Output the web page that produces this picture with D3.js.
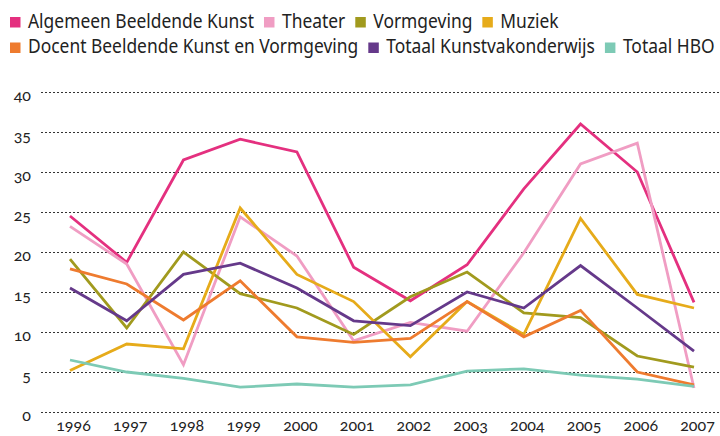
<!DOCTYPE html>
<html>
<head>
<meta charset="utf-8">
<script src="https://cdn.jsdelivr.net/npm/d3@7"></script>
<style>
  body { margin: 0; background: #fff; }
  text { font-family: "Noto Sans", sans-serif; fill: #222; }
  .num text { font-family: Lato, "Noto Sans", sans-serif; font-variant-numeric: oldstyle-nums; font-feature-settings: "onum" 1; }
</style>
</head>
<body>
<svg id="chart" width="720" height="436"></svg>
<script>
const years = [1996, 1997, 1998, 1999, 2000, 2001, 2002, 2003, 2004, 2005, 2006, 2007];
const yTicks = [0, 5, 10, 15, 20, 25, 30, 35, 40];

const algemeenBK = [24.5, 18.7, 31.5, 34.1, 32.5, 18.1, 13.9, 18.4, 27.9, 36.0, 30.0, 13.7];
const theater    = [23.2, 18.5, 5.9, 24.4, 19.5, 8.9, 11.2, 10.1, 19.9, 31.0, 33.6, 3.0];
const vormgeving = [19.1, 10.5, 20.0, 14.8, 13.0, 9.7, 14.4, 17.5, 12.4, 11.8, 7.0, 5.6];
const muziek     = [5.2, 8.5, 7.9, 25.5, 17.2, 13.8, 6.9, 13.8, 9.7, 24.2, 14.7, 13.0];
const docentBKV  = [17.9, 16.0, 11.5, 16.4, 9.4, 8.7, 9.2, 13.8, 9.4, 12.7, 5.0, 3.4];
const totaalKVO  = [15.5, 11.4, 17.2, 18.6, 15.5, 11.4, 10.8, 15.0, 13.0, 18.3, 13.0, 7.6];
const totaalHBO  = [6.5, 5.0, 4.2, 3.1, 3.5, 3.1, 3.4, 5.1, 5.4, 4.6, 4.1, 3.2];

const names  = ['Algemeen Beeldende Kunst', 'Theater', 'Vormgeving', 'Muziek',
                'Docent Beeldende Kunst en Vormgeving', 'Totaal Kunstvakonderwijs', 'Totaal HBO'];
const colors = ['#e4307f', '#f09dc3', '#a19a1e', '#e6ab1a', '#ee7b2f', '#65398a', '#7dcab5'];
const legendRows = [[0, 1, 2, 3], [4, 5, 6]];

const series = [algemeenBK, theater, vormgeving, muziek, docentBKV, totaalKVO, totaalHBO]
  .map((values, i) => ({ name: names[i], color: colors[i], values: values }));

const svg = d3.select('#chart');

const x = d3.scaleLinear().domain([1996, 2007]).range([70, 694]);
const y = d3.scaleLinear().domain([0, 40]).range([412, 92]);

// dotted grid + y labels
const yAxis = svg.append('g')
  .attr('class', 'num')
  .attr('transform', 'translate(41,0)')
  .call(d3.axisLeft(y).tickValues(yTicks).tickSize(-679).tickPadding(10));
yAxis.select('.domain').remove();
yAxis.selectAll('line')
  .attr('stroke', '#333')
  .attr('stroke-width', 1)
  .attr('stroke-dasharray', '2,2');
yAxis.selectAll('text')
  .attr('dy', '0.55em')
  .style('font-size', '16px');

// year labels
const xAxis = svg.append('g')
  .attr('class', 'num')
  .attr('transform', 'translate(0,412)')
  .call(d3.axisBottom(x).tickValues(years).tickFormat(d3.format('d')).tickSize(0).tickPadding(8));
xAxis.select('.domain').remove();
xAxis.selectAll('text')
  .attr('dx', 3)
  .style('font-size', '16px');

const line = d3.line()
  .x((d, i) => x(years[i]))
  .y(d => y(d));

svg.append('g')
  .selectAll('path')
  .data(series)
  .join('path')
  .attr('d', d => line(d.values))
  .attr('fill', 'none')
  .attr('stroke', d => d.color)
  .attr('stroke-width', 2.8)
  .attr('stroke-linejoin', 'miter');

// legend, text squeezed a bit to match the condensed original face
const legend = svg.append('g');
const probe = legend.append('text').style('font-size', '19px').text(names[0]);
const sx = 226 / probe.node().getComputedTextLength();
probe.remove();

legendRows.forEach((row, r) => {
  const base = 27.5 + r * 25.5;
  let cx = 10;
  row.forEach(i => {
    legend.append('rect')
      .attr('x', cx)
      .attr('y', base - 10.5)
      .attr('width', 10.5)
      .attr('height', 10.5)
      .attr('fill', colors[i]);
    const t = legend.append('text')
      .attr('transform', `translate(${cx + 18},${base}) scale(${sx},1)`)
      .style('font-size', '19px')
      .text(names[i]);
    cx += 18 + t.node().getComputedTextLength() * sx + 10;
  });
});
</script>
</body>
</html>
